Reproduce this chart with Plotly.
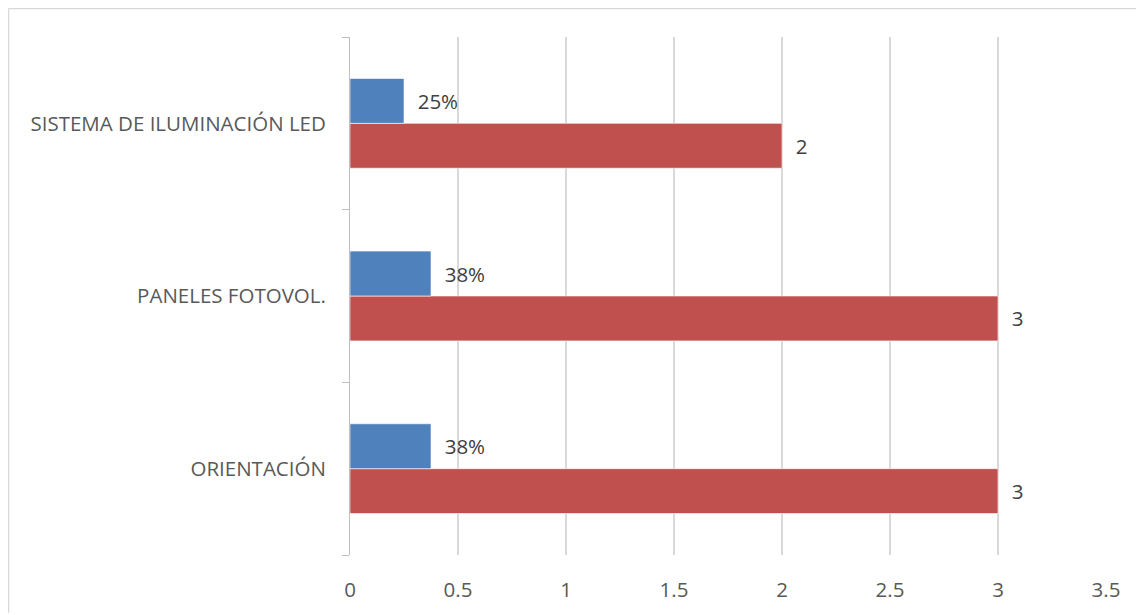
import plotly.graph_objects as go

categories = ["ORIENTACIÓN", "PANELES FOTOVOL.", "SISTEMA DE ILUMINACIÓN LED"]
blue_values = [0.375, 0.375, 0.25]
red_values = [3, 3, 2]
x_ticks = [0, 0.5, 1, 1.5, 2, 2.5, 3, 3.5]
x_tick_labels = ["0", "0.5", "1", "1.5", "2", "2.5", "3", "3.5"]

FONT = "Open Sans"
TXT = "#595959"
FS = 20.5
PAD = "\u00a0\u00a0"

fig = go.Figure()
fig.add_trace(go.Bar(
    y=categories, x=red_values, orientation="h",
    marker=dict(color="#C0504D", line=dict(color="rgba(255,255,255,0.6)", width=1)),
    texttemplate=PAD + "%{x}", textposition="outside", cliponaxis=False,
    textfont=dict(family=FONT, size=FS, color="#404040"),
    hoverinfo="skip",
))
fig.add_trace(go.Bar(
    y=categories, x=blue_values, orientation="h",
    marker=dict(color="#4F81BD", line=dict(color="rgba(255,255,255,0.6)", width=1)),
    texttemplate=PAD + "%{x:.0%}", textposition="outside", cliponaxis=False,
    textfont=dict(family=FONT, size=FS, color="#404040"),
    hoverinfo="skip",
))

# page body has an 8px margin, so the figure is drawn at (8, 8)
fig.update_layout(
    width=1136, height=607,
    margin=dict(l=342, r=38, t=29, b=58),
    barmode="group", bargap=0.48, bargroupgap=0,
    showlegend=False,
    plot_bgcolor="white", paper_bgcolor="white",
    font=dict(family=FONT, size=FS, color=TXT),
    uniformtext=dict(mode=False),
)
fig.update_xaxes(
    range=[0, 3.5], tickvals=x_ticks, ticktext=x_tick_labels,
    showgrid=True, gridcolor="#d9d9d9", gridwidth=1.5,
    zeroline=False, showline=False,
    ticks="outside", ticklen=16, tickcolor="rgba(0,0,0,0)",
    tickfont=dict(family=FONT, size=FS, color=TXT),
)
fig.update_yaxes(
    type="category", categoryorder="array", categoryarray=categories,
    showgrid=False, zeroline=False,
    showline=True, linecolor="#bfbfbf", linewidth=1,
    ticks="outside", tickson="boundaries", ticklen=7, tickcolor="#bfbfbf",
    ticklabelstandoff=19,
    tickfont=dict(family=FONT, size=FS, color=TXT),
)
# outer chart border: only top and left edges are visible in the crop
bx0 = (0.5 - 342) / 756
by1 = (549 - 0.5) / 520
fig.add_shape(type="line", xref="paper", yref="paper",
              x0=bx0, x1=(1136 - 342) / 756, y0=by1, y1=by1,
              line=dict(color="#d9d9d9", width=1.5), layer="below")
fig.add_shape(type="line", xref="paper", yref="paper",
              x0=bx0, x1=bx0, y0=(549 - 607) / 520, y1=by1,
              line=dict(color="#d9d9d9", width=1.5), layer="below")

fig.write_html("out.html")
